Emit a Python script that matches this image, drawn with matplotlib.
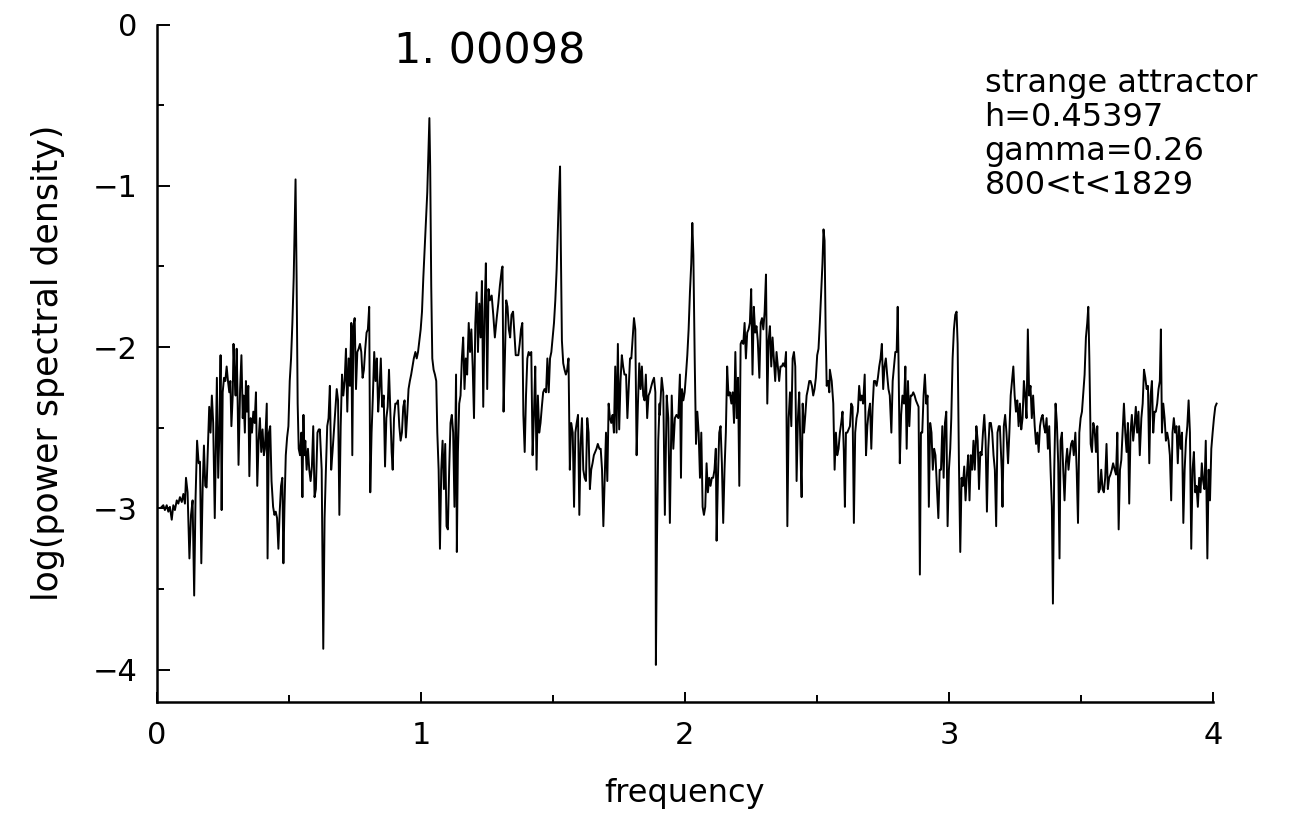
"""
Power spectrum of the strange attractor run (h=0.45397, gamma=0.26),
redrawn from the scanned figure.
"""

import numpy as np
import matplotlib
matplotlib.use("Agg")
import matplotlib.pyplot as plt
from matplotlib.ticker import MultipleLocator

# --- spectrum in six bands along the frequency axis ---
freq_a = [0.018, 0.024, 0.030, 0.037, 0.043, 0.049, 0.056, 0.062, 0.068, 0.075,
          0.081, 0.087, 0.094, 0.100, 0.106, 0.110, 0.116, 0.123, 0.129, 0.135,
          0.141, 0.146, 0.152, 0.158, 0.163, 0.168, 0.173, 0.178, 0.183, 0.188,
          0.193, 0.198, 0.203, 0.208, 0.213, 0.219, 0.224, 0.227, 0.232, 0.237,
          0.241, 0.245, 0.249, 0.254, 0.259, 0.264, 0.269, 0.274, 0.278, 0.282,
          0.287, 0.290, 0.294, 0.298, 0.302, 0.306, 0.309, 0.315, 0.320, 0.325,
          0.328, 0.333, 0.337, 0.341, 0.346, 0.350, 0.355, 0.360, 0.365, 0.370,
          0.375, 0.380, 0.385, 0.390, 0.395, 0.400, 0.405, 0.409, 0.416, 0.419,
          0.424, 0.429, 0.434, 0.440, 0.445, 0.450, 0.455, 0.460, 0.465, 0.470,
          0.475, 0.479, 0.483, 0.488, 0.493, 0.498, 0.503, 0.508, 0.513, 0.518,
          0.522, 0.525, 0.529, 0.533, 0.537, 0.542, 0.547, 0.551, 0.555, 0.558,
          0.562, 0.567, 0.572, 0.577, 0.582, 0.587, 0.592, 0.597, 0.602, 0.608,
          0.613, 0.618]
psd_a = [-2.99, -2.98, -3.01, -2.98, -3.02, -2.99, -3.07, -2.98, -3.01, -2.95,
         -2.97, -2.93, -2.96, -2.91, -2.97, -2.81, -2.90, -3.31, -3.04, -2.95,
         -3.54, -2.95, -2.58, -2.72, -2.71, -3.34, -2.88, -2.61, -2.86, -2.87,
         -2.63, -2.37, -2.53, -2.30, -2.47, -3.06, -2.53, -2.19, -2.81, -2.49,
         -2.05, -3.01, -2.28, -2.19, -2.21, -2.12, -2.21, -2.28, -2.21, -2.49,
         -2.30, -1.98, -2.17, -2.30, -2.01, -2.37, -2.73, -2.26, -2.05, -2.44,
         -2.30, -2.53, -2.21, -2.40, -2.24, -2.80, -2.44, -2.53, -2.40, -2.47,
         -2.28, -2.86, -2.58, -2.44, -2.65, -2.51, -2.67, -2.63, -2.35, -3.31,
         -2.53, -2.49, -2.83, -2.99, -3.04, -3.02, -3.06, -3.25, -3.02, -2.86,
         -2.81, -3.34, -2.99, -2.67, -2.56, -2.49, -2.21, -2.07, -1.85, -1.57,
         -1.20, -0.96, -1.57, -2.35, -2.63, -2.67, -2.53, -2.93, -2.42, -2.67,
         -2.58, -2.76, -2.63, -2.76, -2.83, -2.74, -2.49, -2.93, -2.88, -2.53,
         -2.51, -2.53]

freq_b = [0.617, 0.624, 0.630, 0.635, 0.640, 0.645, 0.650, 0.655, 0.660, 0.665,
          0.670, 0.675, 0.681, 0.686, 0.691, 0.696, 0.701, 0.706, 0.711, 0.716,
          0.721, 0.726, 0.731, 0.736, 0.740, 0.744, 0.749, 0.754, 0.759, 0.764,
          0.769, 0.774, 0.779, 0.784, 0.789, 0.794, 0.799, 0.804, 0.808, 0.813,
          0.818, 0.823, 0.828, 0.833, 0.838, 0.843, 0.848, 0.853, 0.859, 0.864,
          0.869, 0.874, 0.879, 0.884, 0.889, 0.893, 0.898, 0.903, 0.908, 0.913,
          0.918, 0.923, 0.928, 0.933, 0.938, 0.943, 0.948, 0.953, 0.958, 0.963,
          0.968, 0.973, 0.979, 0.984, 0.989, 0.994, 0.999, 1.004, 1.009, 1.014,
          1.019, 1.024, 1.028, 1.032, 1.035, 1.039, 1.043, 1.048, 1.053, 1.058,
          1.062, 1.067, 1.072, 1.077, 1.082, 1.087, 1.092, 1.097, 1.102, 1.107,
          1.112, 1.117, 1.122, 1.127, 1.133, 1.136, 1.140, 1.145, 1.150, 1.155,
          1.160, 1.165, 1.170, 1.175, 1.181, 1.186, 1.191, 1.196, 1.201, 1.206,
          1.211, 1.216, 1.221, 1.226, 1.231, 1.236, 1.241, 1.246, 1.251, 1.256]
psd_b = [-2.51, -2.76, -3.87, -3.06, -2.76, -2.49, -2.44, -2.24, -2.76, -2.65,
         -2.53, -2.42, -2.26, -2.33, -3.04, -2.49, -2.17, -2.30, -2.21, -2.01,
         -2.40, -2.07, -2.24, -1.85, -2.67, -1.87, -1.82, -2.26, -2.03, -2.01,
         -1.98, -2.03, -2.19, -2.14, -2.01, -1.91, -1.89, -1.75, -2.90, -2.53,
         -2.30, -2.03, -2.21, -2.07, -2.40, -2.26, -2.07, -2.37, -2.30, -2.74,
         -2.44, -2.37, -2.14, -2.40, -2.65, -2.76, -2.44, -2.35, -2.35, -2.33,
         -2.49, -2.58, -2.53, -2.37, -2.33, -2.56, -2.42, -2.26, -2.21, -2.17,
         -2.12, -2.07, -2.03, -2.07, -2.03, -1.96, -1.89, -1.78, -1.57, -1.39,
         -1.20, -1.04, -0.81, -0.58, -0.88, -1.62, -2.07, -2.14, -2.17, -2.21,
         -2.53, -2.76, -3.25, -2.76, -2.58, -2.88, -2.60, -3.11, -3.13, -2.76,
         -2.47, -2.42, -2.53, -2.99, -2.17, -3.27, -2.65, -2.35, -2.30, -2.07,
         -1.94, -2.26, -2.07, -2.17, -1.85, -2.03, -1.89, -2.12, -2.44, -1.85,
         -1.66, -2.03, -1.73, -1.94, -1.59, -2.37, -1.78, -1.48, -2.26, -1.64]

freq_c = [1.261, 1.268, 1.274, 1.280, 1.287, 1.293, 1.299, 1.306, 1.309, 1.313,
          1.318, 1.323, 1.328, 1.333, 1.338, 1.343, 1.349, 1.354, 1.359, 1.364,
          1.369, 1.374, 1.379, 1.384, 1.388, 1.393, 1.398, 1.403, 1.408, 1.413,
          1.418, 1.423, 1.428, 1.433, 1.438, 1.443, 1.448, 1.453, 1.458, 1.463,
          1.468, 1.474, 1.479, 1.484, 1.489, 1.494, 1.499, 1.504, 1.509, 1.514,
          1.519, 1.523, 1.527, 1.530, 1.534, 1.539, 1.544, 1.549, 1.554, 1.559,
          1.564, 1.569, 1.575, 1.580, 1.585, 1.590, 1.595, 1.600, 1.605, 1.610,
          1.615, 1.620, 1.625, 1.630, 1.635, 1.640, 1.645, 1.650, 1.655, 1.660,
          1.665, 1.670, 1.676, 1.681, 1.686, 1.691, 1.696, 1.701, 1.706, 1.711,
          1.716, 1.721, 1.726, 1.731, 1.736, 1.741, 1.746, 1.751, 1.756, 1.761,
          1.766, 1.771, 1.777, 1.782, 1.787, 1.792, 1.797, 1.802, 1.807, 1.812,
          1.817, 1.822, 1.827, 1.832, 1.837, 1.842, 1.847, 1.852, 1.857, 1.862,
          1.867, 1.873, 1.878, 1.883, 1.888, 1.890, 1.894, 1.899, 1.904]
psd_c = [-1.71, -1.68, -1.80, -1.94, -1.82, -1.73, -1.62, -1.52, -1.50, -2.40,
         -2.07, -1.71, -1.75, -1.89, -1.94, -1.80, -1.78, -1.91, -2.05, -2.05,
         -2.05, -1.98, -1.89, -1.85, -2.42, -2.65, -2.30, -2.07, -2.03, -2.05,
         -2.03, -2.67, -2.42, -2.12, -2.76, -2.30, -2.53, -2.47, -2.37, -2.28,
         -2.26, -2.28, -2.07, -2.28, -2.07, -2.03, -1.94, -1.85, -1.71, -1.52,
         -1.25, -1.04, -0.88, -1.39, -1.96, -2.10, -2.14, -2.17, -2.14, -2.07,
         -2.76, -2.47, -2.53, -2.99, -2.53, -2.47, -2.42, -3.04, -2.60, -2.44,
         -2.76, -2.81, -2.83, -2.44, -2.53, -2.88, -2.76, -2.72, -2.67, -2.65,
         -2.63, -2.60, -2.63, -2.63, -2.76, -3.11, -2.81, -2.53, -2.83, -2.35,
         -2.44, -2.47, -2.42, -2.53, -2.12, -2.53, -1.98, -2.51, -2.21, -2.05,
         -2.12, -2.17, -2.17, -2.44, -2.26, -2.07, -2.07, -1.94, -1.82, -1.89,
         -2.67, -2.35, -2.10, -2.26, -2.12, -2.30, -2.33, -2.17, -2.44, -2.30,
         -2.28, -2.24, -2.21, -2.19, -2.28, -3.97, -3.22, -2.58, -2.35]

freq_d = [1.905, 1.912, 1.918, 1.924, 1.931, 1.937, 1.943, 1.950, 1.956, 1.962,
          1.968, 1.975, 1.981, 1.985, 1.989, 1.994, 1.999, 2.004, 2.009, 2.014,
          2.019, 2.024, 2.028, 2.032, 2.037, 2.042, 2.047, 2.052, 2.057, 2.062,
          2.067, 2.072, 2.077, 2.082, 2.087, 2.092, 2.097, 2.102, 2.107, 2.112,
          2.117, 2.120, 2.125, 2.130, 2.135, 2.140, 2.145, 2.150, 2.155, 2.160,
          2.165, 2.170, 2.176, 2.181, 2.186, 2.191, 2.196, 2.201, 2.206, 2.211,
          2.216, 2.221, 2.226, 2.231, 2.236, 2.241, 2.246, 2.251, 2.256, 2.261,
          2.266, 2.271, 2.276, 2.282, 2.287, 2.292, 2.297, 2.302, 2.307, 2.312,
          2.317, 2.322, 2.327, 2.332, 2.337, 2.342, 2.347, 2.352, 2.357, 2.362,
          2.367, 2.372, 2.378, 2.383, 2.388, 2.393, 2.398, 2.403, 2.408, 2.413,
          2.418, 2.423, 2.428, 2.433, 2.438, 2.442, 2.446, 2.451, 2.456, 2.461,
          2.466, 2.471, 2.476, 2.481, 2.486, 2.491, 2.496, 2.501, 2.506, 2.511,
          2.516, 2.521, 2.525, 2.529, 2.533, 2.537, 2.542, 2.547]
psd_d = [-2.42, -2.19, -2.28, -3.04, -2.30, -2.44, -3.09, -2.30, -2.63, -2.44,
         -2.42, -2.44, -2.17, -2.81, -2.26, -2.33, -2.28, -2.17, -2.05, -1.89,
         -1.66, -1.48, -1.23, -1.43, -2.07, -2.60, -2.40, -2.53, -2.81, -2.53,
         -2.99, -3.04, -2.99, -2.72, -2.90, -2.81, -2.86, -2.81, -2.81, -2.76,
         -2.63, -3.20, -2.81, -2.53, -2.49, -2.72, -3.09, -2.76, -2.53, -2.12,
         -2.30, -2.28, -2.35, -2.28, -2.47, -2.03, -2.44, -2.19, -2.86, -1.98,
         -1.96, -1.98, -1.85, -2.07, -1.91, -1.89, -1.85, -1.64, -2.17, -1.75,
         -1.91, -1.87, -1.96, -2.19, -1.85, -1.82, -1.89, -1.78, -1.55, -2.35,
         -1.96, -1.87, -2.12, -1.94, -2.07, -2.21, -2.03, -2.12, -2.21, -2.12,
         -2.12, -2.10, -2.12, -2.03, -3.11, -2.44, -2.28, -2.49, -2.07, -2.03,
         -2.12, -2.83, -2.44, -2.28, -2.67, -2.93, -2.35, -2.53, -2.42, -2.30,
         -2.26, -2.21, -2.21, -2.24, -2.30, -2.26, -2.19, -2.05, -2.01, -1.85,
         -1.66, -1.48, -1.27, -1.34, -1.89, -2.24, -2.21, -2.28]

freq_e = [2.549, 2.556, 2.562, 2.567, 2.572, 2.577, 2.582, 2.587, 2.592, 2.597,
          2.602, 2.606, 2.610, 2.615, 2.620, 2.625, 2.630, 2.635, 2.640, 2.645,
          2.650, 2.655, 2.660, 2.665, 2.670, 2.675, 2.681, 2.686, 2.691, 2.696,
          2.701, 2.706, 2.711, 2.716, 2.721, 2.726, 2.731, 2.736, 2.741, 2.746,
          2.751, 2.756, 2.761, 2.766, 2.771, 2.776, 2.782, 2.787, 2.792, 2.797,
          2.802, 2.806, 2.809, 2.814, 2.819, 2.824, 2.830, 2.835, 2.840, 2.845,
          2.850, 2.855, 2.860, 2.865, 2.870, 2.875, 2.880, 2.885, 2.890, 2.894,
          2.899, 2.904, 2.909, 2.914, 2.919, 2.924, 2.929, 2.934, 2.939, 2.944,
          2.949, 2.955, 2.960, 2.965, 2.970, 2.975, 2.980, 2.985, 2.990, 2.995,
          3.000, 3.005, 3.009, 3.014, 3.019, 3.024, 3.029, 3.033, 3.038, 3.043,
          3.048, 3.053, 3.058, 3.063, 3.068, 3.073, 3.078, 3.083, 3.088, 3.093,
          3.098, 3.104, 3.109, 3.114, 3.119, 3.124, 3.129, 3.134, 3.139, 3.144,
          3.149, 3.154, 3.159, 3.164, 3.169, 3.174, 3.179, 3.184, 3.189]
psd_e = [-2.14, -2.21, -2.35, -2.76, -2.53, -2.67, -2.63, -2.53, -2.47, -2.40,
         -2.65, -2.99, -2.53, -2.53, -2.51, -2.49, -2.35, -2.37, -3.09, -2.53,
         -2.44, -2.40, -2.24, -2.33, -2.30, -2.35, -2.17, -2.67, -2.49, -2.40,
         -2.35, -2.63, -2.37, -2.21, -2.21, -2.24, -2.19, -2.12, -2.07, -1.98,
         -2.26, -2.12, -2.07, -2.17, -2.26, -2.30, -2.53, -2.21, -2.12, -2.03,
         -2.03, -1.75, -2.07, -2.72, -2.42, -2.30, -2.35, -2.12, -2.63, -2.21,
         -2.49, -2.30, -2.30, -2.28, -2.30, -2.33, -2.35, -2.37, -3.41, -2.53,
         -2.53, -2.30, -2.17, -2.35, -2.30, -2.99, -2.47, -2.53, -2.76, -2.63,
         -2.67, -2.88, -3.06, -2.76, -2.76, -2.49, -2.81, -2.47, -2.40, -3.11,
         -2.76, -2.63, -2.44, -2.07, -1.89, -1.80, -1.78, -1.98, -2.72, -3.27,
         -2.81, -2.86, -2.74, -2.95, -2.79, -2.67, -2.95, -2.67, -2.76, -2.58,
         -2.76, -2.49, -2.58, -2.88, -2.65, -2.67, -2.53, -2.42, -2.58, -3.02,
         -2.63, -2.47, -2.47, -2.53, -2.67, -2.76, -3.11, -2.53, -2.49]

freq_f = [3.193, 3.200, 3.203, 3.208, 3.213, 3.218, 3.224, 3.229, 3.234, 3.239,
          3.244, 3.249, 3.254, 3.259, 3.264, 3.269, 3.274, 3.279, 3.284, 3.289,
          3.294, 3.299, 3.304, 3.309, 3.314, 3.319, 3.325, 3.330, 3.335, 3.340,
          3.345, 3.350, 3.355, 3.360, 3.365, 3.370, 3.375, 3.380, 3.385, 3.390,
          3.394, 3.399, 3.404, 3.409, 3.414, 3.419, 3.423, 3.428, 3.433, 3.438,
          3.443, 3.448, 3.453, 3.458, 3.463, 3.468, 3.473, 3.479, 3.484, 3.489,
          3.494, 3.499, 3.504, 3.509, 3.514, 3.519, 3.524, 3.528, 3.532, 3.537,
          3.542, 3.547, 3.552, 3.557, 3.562, 3.567, 3.572, 3.577, 3.582, 3.587,
          3.592, 3.597, 3.602, 3.607, 3.612, 3.617, 3.622, 3.628, 3.633, 3.638,
          3.643, 3.648, 3.653, 3.658, 3.663, 3.668, 3.673, 3.678, 3.683, 3.688,
          3.693, 3.698, 3.703, 3.708, 3.713, 3.718, 3.723, 3.729, 3.734, 3.739,
          3.744, 3.749, 3.754, 3.759, 3.764, 3.769, 3.774, 3.779, 3.784, 3.789,
          3.794, 3.799, 3.803, 3.807, 3.812, 3.817, 3.822, 3.827, 3.832, 3.837,
          3.842, 3.847, 3.852, 3.857, 3.862, 3.867, 3.872, 3.878, 3.883, 3.888,
          3.893, 3.898, 3.903, 3.908, 3.913, 3.918, 3.923, 3.928, 3.933, 3.938,
          3.943, 3.948, 3.953, 3.958, 3.963, 3.968, 3.973, 3.979, 3.984, 3.989,
          3.994, 3.999, 4.004, 4.009, 4.014]
psd_f = [-2.49, -2.76, -2.99, -2.49, -2.42, -2.53, -2.72, -2.53, -2.30, -2.21,
         -2.12, -2.30, -2.40, -2.33, -2.49, -2.35, -2.51, -2.44, -2.21, -2.30,
         -2.44, -1.89, -2.30, -2.24, -2.44, -2.30, -2.49, -2.60, -2.53, -2.65,
         -2.49, -2.44, -2.42, -2.49, -2.53, -2.44, -2.63, -2.49, -2.76, -2.99,
         -3.59, -2.76, -2.35, -2.47, -2.72, -3.31, -2.58, -2.53, -2.76, -2.95,
         -2.72, -2.63, -2.76, -2.67, -2.60, -2.58, -2.67, -2.53, -2.76, -3.09,
         -2.53, -2.44, -2.40, -2.28, -2.17, -1.94, -1.85, -1.75, -2.07, -2.60,
         -2.65, -2.47, -2.51, -2.65, -2.49, -2.90, -2.88, -2.76, -2.88, -2.90,
         -2.81, -2.60, -2.88, -2.81, -2.79, -2.76, -2.72, -2.76, -2.79, -2.53,
         -3.13, -2.76, -2.70, -2.53, -2.35, -2.53, -2.65, -2.47, -2.97, -2.53,
         -2.42, -2.58, -2.49, -2.37, -2.53, -2.40, -2.67, -2.44, -2.35, -2.14,
         -2.19, -2.26, -2.24, -2.72, -2.30, -2.21, -2.53, -2.40, -2.40, -2.35,
         -2.26, -2.21, -1.89, -2.53, -2.35, -2.44, -2.58, -2.53, -2.58, -2.67,
         -2.95, -2.53, -2.44, -2.53, -2.49, -2.72, -2.49, -2.63, -2.53, -3.09,
         -2.76, -2.58, -2.49, -2.33, -2.53, -3.25, -2.76, -2.65, -2.90, -2.86,
         -2.99, -2.81, -2.90, -2.72, -2.83, -2.88, -2.58, -3.31, -2.76, -2.95,
         -2.63, -2.53, -2.44, -2.37, -2.35]

x_ticks = [0, 1, 2, 3, 4]
y_ticks = [0, -1, -2, -3, -4]
peak_label = "1. 00098"
run_info = ["strange attractor", "h=0.45397", "gamma=0.26", "800<t<1829"]


def main():
    freq = np.concatenate([freq_a, freq_b, freq_c, freq_d, freq_e, freq_f])
    log_psd = np.concatenate([psd_a, psd_b, psd_c, psd_d, psd_e, psd_f])

    plt.rcParams["font.family"] = ["DejaVu Sans"]
    fig = plt.figure(figsize=(12.95, 8.23), dpi=100)
    ax = fig.add_axes([0.1212, 0.147, 0.8154, 0.8232])

    ax.plot(freq, log_psd, color="black", linewidth=1.4, clip_on=False)

    ax.set_xlim(0, 4)
    ax.set_ylim(-4.2, 0)

    # only the left and bottom frame lines, ticks pointing inward
    for side in ("top", "right"):
        ax.spines[side].set_visible(False)
    for side in ("left", "bottom"):
        ax.spines[side].set_linewidth(1.8)

    ax.set_xticks(x_ticks)
    ax.set_yticks(y_ticks)
    ax.xaxis.set_minor_locator(MultipleLocator(0.5))
    ax.yaxis.set_minor_locator(MultipleLocator(0.5))
    ax.tick_params(axis="both", which="both", direction="in", width=1.4,
                   labelsize=22)
    ax.tick_params(axis="x", which="major", length=7, pad=14)
    ax.tick_params(axis="x", which="minor", length=5)
    ax.tick_params(axis="y", which="major", length=9, pad=14)
    ax.tick_params(axis="y", which="minor", length=5)

    ax.set_xlabel("frequency", fontsize=23, labelpad=20)
    ax.set_ylabel("log(power spectral density)", fontsize=25, labelpad=20)

    ax.text(1.26, -0.17, peak_label, fontsize=31, ha="center", va="center")
    ax.text(3.135, -0.27, "\n".join(run_info), fontsize=23, ha="left",
            va="top", linespacing=1.12)

    fig.savefig("out.png", dpi=100)


if __name__ == "__main__":
    main()
